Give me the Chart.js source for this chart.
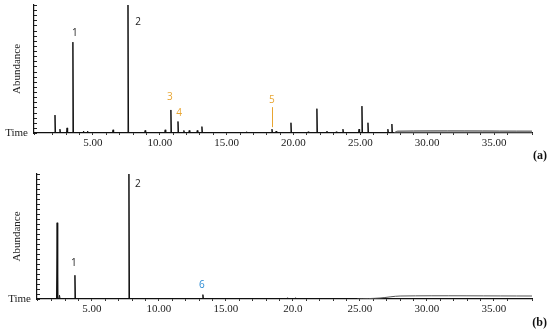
<!DOCTYPE html>
<html lang="en">
<head>
  <meta charset="UTF-8">
  <title>Chromatograms (a) and (b)</title>
  <script src="https://cdn.jsdelivr.net/npm/chart.js"></script>
  <style>
    body {
      margin: 0;
      background: #fff;
      width: 550px;
      height: 331px;
      position: relative;
      overflow: hidden;
    }
    .panel {
      position: absolute;
      left: 0;
      width: 550px;
    }
    #panelA { top: 0; height: 165px; }
    #panelB { top: 165px; height: 166px; }
    .tag {
      position: absolute;
      right: 3px;
      font-family: 'Liberation Serif', serif;
      font-weight: bold;
      font-size: 12px;
      color: #111;
    }
  </style>
</head>
<body>
  <div class="panel" id="panelA"><canvas id="chartA"></canvas></div>
  <div class="panel" id="panelB"><canvas id="chartB"></canvas></div>
  <div class="tag" style="top:148px">(a)</div>
  <div class="tag" style="top:315px">(b)</div>

  <script>
    // retention time (min) and relative abundance of each peak
    const timesA = [2.16, 2.53, 3.06, 3.5, 4.3, 4.6, 6.5, 7.62, 8.9, 10.4,
                    10.83, 11.36, 11.8, 12.2, 12.8, 13.15, 16.5, 18.39, 18.7, 19.81,
                    21.1, 21.75, 22.5, 23.2, 23.7, 24.9, 25.12, 25.57, 27.06, 27.36];
    const heightsA = [14, 3, 4, 71, 1.5, 1.5, 2.5, 100, 2, 2.5,
                      18, 9, 2, 2, 2, 5, 1, 3, 1.5, 8,
                      1, 19, 1.5, 1, 3, 3, 21, 8, 3, 7];
    const driftTimesA = [27.5, 27.8, 37.84];
    const driftA = [0, 1.5, 1.5];

    const timesB = [2.4, 2.58, 3.73, 7.76, 13.28, 19.6, 20.2];
    const heightsB = [61, 3, 19, 100, 3.5, 1, 1];
    const driftTimesB = [24.8, 26.5, 28.0, 37.84];
    const driftB = [0, 0.8, 2.4, 2.4];

    const peakNamesA = ['1', '2', '3', '4', '5'];
    const peakTimesA = [3.5, 7.62, 10.83, 11.36, 18.39];
    const peakNamesB = ['1', '2', '6'];
    const peakTimesB = [3.73, 7.76, 13.28];

    const ORANGE = '#e8a531';
    const BLUE = '#2b8bd3';

    function trace(times, heights, xmin, xmax) {
      const pts = [{x: xmin, y: 0}];
      const w = 0.045;
      times.forEach((t, i) => {
        pts.push({x: t - w, y: 0}, {x: t, y: heights[i]}, {x: t + w, y: 0});
      });
      pts.push({x: xmax, y: 0});
      return pts;
    }

    function pairs(xs, ys) {
      return xs.map((x, i) => ({x: x, y: ys[i]}));
    }

    // little tick marks inside the y axis, plus the peak numbers
    const extras = {
      id: 'extras',
      afterDraw(chart, args, opts) {
        const ctx = chart.ctx;
        const xs = chart.scales.x, ys = chart.scales.y;
        ctx.save();
        ctx.strokeStyle = '#222';
        ctx.lineWidth = 1;
        ys.ticks.forEach(t => {
          const py = Math.round(ys.getPixelForValue(t.value)) + 0.5;
          ctx.beginPath();
          ctx.moveTo(xs.left, py);
          ctx.lineTo(xs.left + 3, py);
          ctx.stroke();
        });
        ctx.font = '10px "Open Sans", sans-serif';
        ctx.textAlign = 'center';
        ctx.textBaseline = 'middle';
        opts.labels.forEach(l => {
          const px = xs.getPixelForValue(l.t);
          const py = ys.getPixelForValue(l.h);
          ctx.fillStyle = l.color;
          ctx.fillText(l.text, px + l.dx, py + l.dy);
          if (l.stem) {
            ctx.strokeStyle = l.color;
            ctx.beginPath();
            ctx.moveTo(Math.round(px) + 0.5, py - 2);
            ctx.lineTo(Math.round(px) + 0.5, py + l.dy + 7);
            ctx.stroke();
          }
        });
        ctx.restore();
      }
    };

    function makeChart(id, cfg) {
      return new Chart(document.getElementById(id), {
        type: 'line',
        data: {
          datasets: [
            {
              data: cfg.drift,
              borderColor: '#555',
              backgroundColor: 'rgba(120,120,120,0.5)',
              fill: cfg.fillDrift ? 'origin' : false,
              borderWidth: 1,
              pointRadius: 0,
              tension: 0.3
            },
            {
              data: cfg.trace,
              borderColor: '#111',
              borderWidth: 1,
              pointRadius: 0,
              tension: 0
            }
          ]
        },
        options: {
          responsive: true,
          maintainAspectRatio: false,
          animation: false,
          layout: { padding: { top: cfg.top, right: 18, left: 0, bottom: 0 } },
          plugins: {
            legend: { display: false },
            tooltip: { enabled: false },
            extras: { labels: cfg.labels }
          },
          scales: {
            x: {
              type: 'linear',
              min: cfg.xmin,
              max: 37.84,
              afterFit: s => { s.height = 32; s.paddingLeft = 0; s.paddingRight = 0; },
              grid: { drawOnChartArea: false, drawTicks: true, tickLength: 2, color: '#333' },
              border: { color: '#111', width: 1.2 },
              ticks: {
                stepSize: 1,
                autoSkip: false,
                maxRotation: 0,
                padding: 2,
                color: '#222',
                font: { family: 'Liberation Serif', size: 11 },
                callback: v => {
                  const r = Math.round(v);
                  if (Math.abs(v - r) > 1e-6 || r % 5 !== 0 || r === 0) return '';
                  return cfg.tickText(r);
                }
              }
            },
            y: {
              min: 0,
              max: 100,
              afterFit: s => { s.width = cfg.axisX; s.paddingTop = 0; s.paddingBottom = 0; },
              grid: { drawOnChartArea: false, drawTicks: false },
              border: { color: '#111', width: 1.2 },
              title: {
                display: true,
                text: 'Abundance',
                color: '#222',
                padding: { top: 11, bottom: 0 },
                font: { family: 'Liberation Serif', size: 11 }
              },
              ticks: {
                stepSize: 4,
                autoSkip: false,
                padding: 6,
                color: '#222',
                font: { family: 'Liberation Serif', size: 11 },
                callback: v => (v === 0 ? 'Time' : '')
              }
            }
          }
        },
        plugins: [extras]
      });
    }

    function peakHeight(times, heights, t) {
      return heights[times.indexOf(t)];
    }

    const styleA = [
      { color: '#222', dx: 2, dy: -9 },
      { color: '#222', dx: 10, dy: 17 },
      { color: ORANGE, dx: -1, dy: -13 },
      { color: ORANGE, dx: 1, dy: -8 },
      { color: ORANGE, dx: 0, dy: -29, stem: true }
    ];
    const styleB = [
      { color: '#222', dx: -1, dy: -12 },
      { color: '#222', dx: 9, dy: 10 },
      { color: BLUE, dx: -1, dy: -9 }
    ];

    makeChart('chartA', {
      xmin: 0.59,
      top: 5,
      axisX: 34,
      fillDrift: true,
      trace: trace(timesA, heightsA, 0.59, 37.84),
      drift: pairs(driftTimesA, driftA),
      tickText: r => r.toFixed(2),
      labels: peakNamesA.map((n, i) => Object.assign({
        text: n, t: peakTimesA[i], h: peakHeight(timesA, heightsA, peakTimesA[i])
      }, styleA[i]))
    });

    makeChart('chartB', {
      xmin: 0.9,
      top: 9,
      axisX: 37,
      fillDrift: false,
      trace: trace(timesB, heightsB, 0.9, 37.84),
      drift: pairs(driftTimesB, driftB),
      tickText: r => (r === 20 ? '20.0' : r.toFixed(2)),
      labels: peakNamesB.map((n, i) => Object.assign({
        text: n, t: peakTimesB[i], h: peakHeight(timesB, heightsB, peakTimesB[i])
      }, styleB[i]))
    });
  </script>
</body>
</html>
